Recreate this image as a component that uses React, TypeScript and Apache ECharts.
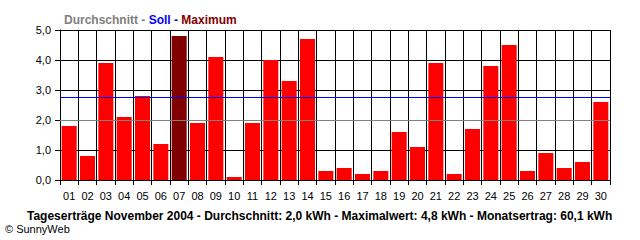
import React, { useEffect, useRef } from "react";
import * as echarts from "echarts";

const days = ["01","02","03","04","05","06","07","08","09","10","11","12","13","14","15","16","17","18","19","20","21","22","23","24","25","26","27","28","29","30"];
const yields = [1.8,0.8,3.9,2.1,2.8,1.2,4.8,1.9,4.1,0.1,1.9,4.0,3.3,4.7,0.3,0.4,0.2,0.3,1.6,1.1,3.9,0.2,1.7,3.8,4.5,0.3,0.9,0.4,0.6,2.6];
const average = 2.0;
const target = 2.76;
const legendParts = ["Durchschnitt - ", "Soll - ", "Maximum"];
const footer = "Tageserträge November 2004 - Durchschnitt: 2,0 kWh - Maximalwert: 4,8 kWh - Monatsertrag: 60,1 kWh";
const copyright = "© SunnyWeb";

export default function App() {
  const ref = useRef<HTMLDivElement>(null);
  useEffect(() => {
    document.body.style.margin = "0";
    const chart = echarts.init(ref.current!, null, { renderer: "svg" });
    const maxVal = Math.max(...yields);
    const font = "Arial, 'Liberation Sans', sans-serif";
    chart.setOption({
      animation: false,
      backgroundColor: "#ffffff",
      title: {
        left: 59,
        top: 9,
        text: `{a|${legendParts[0]}}{b|${legendParts[1]}}{c|${legendParts[2]}}`,
        textStyle: {
          fontFamily: font,
          fontSize: 12,
          fontWeight: "bold",
          rich: {
            a: { color: "#808080", fontFamily: font, fontSize: 12, fontWeight: "bold" },
            b: { color: "#0000ff", fontFamily: font, fontSize: 12, fontWeight: "bold" },
            c: { color: "#800000", fontFamily: font, fontSize: 12, fontWeight: "bold" },
          },
        },
      },
      grid: { left: 60, right: 30, top: 30, bottom: 60, containLabel: false },
      xAxis: {
        type: "category",
        data: days,
        boundaryGap: true,
        axisLine: { show: true, lineStyle: { color: "#000", width: 1 } },
        axisTick: { show: true, length: 5, lineStyle: { color: "#000" } },
        splitLine: { show: true, lineStyle: { color: "#000", width: 1 } },
        axisLabel: { color: "#000", fontFamily: font, fontSize: 11, margin: 10 },
      },
      yAxis: {
        type: "value",
        min: 0,
        max: 5,
        interval: 1,
        axisLine: { show: true, lineStyle: { color: "#000", width: 1 } },
        axisTick: { show: true, length: 5, lineStyle: { color: "#000" } },
        splitLine: { show: true, lineStyle: { color: "#000", width: 1 } },
        axisLabel: {
          color: "#000",
          fontFamily: font,
          fontSize: 11,
          margin: 9,
          formatter: (v: number) => v.toFixed(1).replace(".", ","),
        },
      },
      series: [
        {
          type: "bar",
          data: yields.map((v) => ({
            value: v,
            itemStyle: { color: v === maxVal ? "#800000" : "#ff0000" },
          })),
          barCategoryGap: "18%",
          markLine: {
            silent: true,
            symbol: ["none", "none"],
            label: { show: false },
            data: [
              { yAxis: average, lineStyle: { color: "#808080", width: 1, type: "solid" } },
              { yAxis: target, lineStyle: { color: "#0000ff", width: 1, type: "solid" } },
            ],
          },
        },
      ],
      graphic: [
        {
          type: "text",
          left: 27,
          top: 210,
          style: { text: footer, fill: "#000", font: `bold 12px ${font}` },
        },
        {
          type: "text",
          left: 5,
          top: 223,
          style: { text: copyright, fill: "#000", font: `11px ${font}` },
        },
      ],
    });
    return () => chart.dispose();
  }, []);
  return <div ref={ref} style={{ width: 640, height: 240 }} />;
}
